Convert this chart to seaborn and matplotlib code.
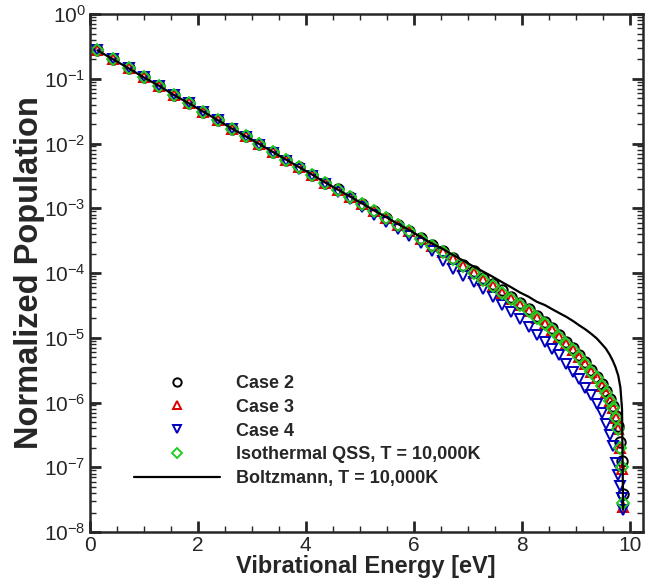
import numpy as np
import pandas as pd
import matplotlib
matplotlib.use("Agg")
import matplotlib.pyplot as plt
from matplotlib.ticker import MultipleLocator, LogLocator, NullFormatter
import seaborn as sns

# vibrational level energies [eV]
energy = [0.14, 0.43, 0.72, 1.00, 1.28, 1.56, 1.83, 2.10, 2.37, 2.63,
          2.89, 3.14, 3.39, 3.64, 3.88, 4.12, 4.36, 4.59, 4.82, 5.05,
          5.27, 5.49, 5.71, 5.92, 6.13, 6.34, 6.54, 6.73, 6.92, 7.11,
          7.29, 7.47, 7.64, 7.81, 7.97, 8.13, 8.28, 8.43, 8.57, 8.70,
          8.83, 8.95, 9.07, 9.18, 9.29, 9.39, 9.48, 9.56, 9.63, 9.69,
          9.74, 9.79, 9.83, 9.86, 9.88]

case2 = [2.75e-1, 2.0e-1, 1.45e-1, 1.05e-1, 7.8e-2, 5.6e-2, 4.2e-2, 3.1e-2, 2.3e-2, 1.7e-2,
         1.29e-2, 9.8e-3, 7.4e-3, 5.6e-3, 4.3e-3, 3.3e-3, 2.5e-3, 1.95e-3, 1.51e-3, 1.17e-3,
         9.1e-4, 7.2e-4, 5.6e-4, 4.5e-4, 3.5e-4, 2.75e-4, 2.2e-4, 1.7e-4, 1.35e-4, 1.07e-4,
         8.5e-5, 6.8e-5, 5.4e-5, 4.3e-5, 3.4e-5, 2.75e-5, 2.2e-5, 1.78e-5, 1.41e-5, 1.10e-5,
         8.7e-6, 6.9e-6, 5.4e-6, 4.2e-6, 3.2e-6, 2.5e-6, 1.95e-6, 1.51e-6, 1.15e-6, 8.7e-7,
         6.3e-7, 4.3e-7, 2.5e-7, 1.26e-7, 3.8e-8]

case3 = [2.75e-1, 2.0e-1, 1.45e-1, 1.05e-1, 7.8e-2, 5.6e-2, 4.2e-2, 3.1e-2, 2.3e-2, 1.7e-2,
         1.29e-2, 9.8e-3, 7.4e-3, 5.6e-3, 4.3e-3, 3.3e-3, 2.5e-3, 1.94e-3, 1.50e-3, 1.16e-3,
         9.0e-4, 7.1e-4, 5.5e-4, 4.4e-4, 3.4e-4, 2.65e-4, 2.1e-4, 1.62e-4, 1.28e-4, 1.0e-4,
         7.9e-5, 6.3e-5, 5.0e-5, 4.0e-5, 3.2e-5, 2.55e-5, 2.05e-5, 1.65e-5, 1.31e-5, 1.03e-5,
         8.1e-6, 6.4e-6, 5.0e-6, 3.9e-6, 3.0e-6, 2.35e-6, 1.82e-6, 1.41e-6, 1.07e-6, 8.1e-7,
         5.8e-7, 3.9e-7, 2.0e-7, 9.5e-8, 2.4e-8]

case4 = [2.75e-1, 2.0e-1, 1.45e-1, 1.05e-1, 7.8e-2, 5.6e-2, 4.2e-2, 3.1e-2, 2.3e-2, 1.69e-2,
         1.27e-2, 9.6e-3, 7.2e-3, 5.4e-3, 4.1e-3, 3.1e-3, 2.35e-3, 1.8e-3, 1.37e-3, 1.05e-3,
         8.0e-4, 6.2e-4, 4.8e-4, 3.75e-4, 2.9e-4, 2.2e-4, 1.51e-4, 1.17e-4, 9.1e-5, 7.2e-5,
         5.6e-5, 4.2e-5, 3.2e-5, 2.5e-5, 1.95e-5, 1.48e-5, 1.12e-5, 8.7e-6, 6.8e-6, 5.4e-6,
         4.0e-6, 3.0e-6, 2.3e-6, 1.7e-6, 1.32e-6, 9.5e-7, 6.9e-7, 4.7e-7, 3.2e-7, 2.1e-7,
         1.15e-7, 7.6e-8, 5.1e-8, 3.4e-8, 2.2e-8]

isothermal = [2.75e-1, 2.0e-1, 1.45e-1, 1.05e-1, 7.8e-2, 5.6e-2, 4.2e-2, 3.1e-2, 2.3e-2, 1.7e-2,
              1.29e-2, 9.8e-3, 7.4e-3, 5.6e-3, 4.3e-3, 3.3e-3, 2.5e-3, 1.94e-3, 1.50e-3, 1.16e-3,
              9.0e-4, 7.1e-4, 5.5e-4, 4.4e-4, 3.4e-4, 2.65e-4, 2.1e-4, 1.62e-4, 1.28e-4, 1.0e-4,
              7.9e-5, 6.3e-5, 5.0e-5, 4.0e-5, 3.2e-5, 2.55e-5, 2.05e-5, 1.65e-5, 1.31e-5, 1.03e-5,
              8.1e-6, 6.4e-6, 5.0e-6, 3.9e-6, 3.0e-6, 2.35e-6, 1.82e-6, 1.41e-6, 1.07e-6, 8.1e-7,
              5.8e-7, 3.9e-7, 2.0e-7, 1.0e-7, 2.8e-8]

boltzmann = [2.75e-1, 2.0e-1, 1.45e-1, 1.05e-1, 7.8e-2, 5.6e-2, 4.2e-2, 3.1e-2, 2.3e-2, 1.7e-2,
             1.29e-2, 9.8e-3, 7.4e-3, 5.6e-3, 4.3e-3, 3.3e-3, 2.5e-3, 1.95e-3, 1.52e-3, 1.18e-3,
             9.2e-4, 7.3e-4, 5.7e-4, 4.6e-4, 3.6e-4, 2.85e-4, 2.35e-4, 1.9e-4, 1.55e-4, 1.26e-4,
             1.05e-4, 8.7e-5, 7.2e-5, 6.0e-5, 5.0e-5, 4.3e-5, 3.6e-5, 3.2e-5, 2.75e-5, 2.4e-5,
             2.1e-5, 1.82e-5, 1.55e-5, 1.35e-5, 1.15e-5, 9.8e-6, 8.1e-6, 6.8e-6, 5.5e-6, 4.4e-6,
             3.5e-6, 2.6e-6, 1.7e-6, 7.9e-7, 2.2e-8]

sns.set_style("ticks")
plt.rcParams['font.family'] = ['Liberation Sans', 'DejaVu Sans']
plt.rcParams['mathtext.fontset'] = 'custom'
plt.rcParams['mathtext.rm'] = 'Liberation Sans'

fig = plt.figure(figsize=(6.51, 5.84), dpi=100)
ax = fig.add_axes([0.138, 0.089, 0.849, 0.887])

series = [
    ("Case 2", case2, "o", "black"),
    ("Case 3", case3, "^", "#dd0000"),
    ("Case 4", case4, "v", "#0000bb"),
    ("Isothermal QSS, T = 10,000K", isothermal, "D", "#22cc22"),
]
for label, vals, mk, col in series:
    df = pd.DataFrame({"E": energy, "P": vals})
    sns.lineplot(data=df, x="E", y="P", ax=ax, estimator=None, sort=False,
                 linestyle="", marker=mk, markersize=7.5 if mk != "D" else 6.5,
                 markerfacecolor="none", markeredgecolor=col,
                 markeredgewidth=1.4, color=col, label=label)

dfb = pd.DataFrame({"E": energy, "P": boltzmann})
sns.lineplot(data=dfb, x="E", y="P", ax=ax, estimator=None, sort=False,
             color="black", linewidth=1.6, label="Boltzmann, T = 10,000K", zorder=5)

ax.set_yscale("log")
ax.set_xlim(0, 10.24)
ax.set_ylim(1e-8, 1)

ax.xaxis.set_major_locator(MultipleLocator(2))
ax.xaxis.set_minor_locator(MultipleLocator(0.5))
ax.yaxis.set_major_locator(LogLocator(base=10, numticks=20))
ax.yaxis.set_minor_locator(LogLocator(base=10, subs=np.arange(2, 10), numticks=20))
ax.yaxis.set_minor_formatter(NullFormatter())

ax.tick_params(which="major", direction="in", length=8, width=2, top=True, right=True,
               labelsize=15, pad=3)
ax.tick_params(which="minor", direction="in", length=4, width=1, top=True, right=True)
for s in ax.spines.values():
    s.set_linewidth(1.8)

ax.set_xlabel("Vibrational Energy [eV]", fontsize=17, fontweight="bold", labelpad=0)
ax.set_ylabel("Normalized Population", fontsize=23.5, fontweight="bold", labelpad=-1)

ax.legend(loc="lower left", bbox_to_anchor=(0.05, 0.055), frameon=False,
          prop={"weight": "bold", "size": 13}, handlelength=4.8,
          handletextpad=0.85, labelspacing=0.38, markerscale=0.8)

fig.savefig("out.png", dpi=100)
